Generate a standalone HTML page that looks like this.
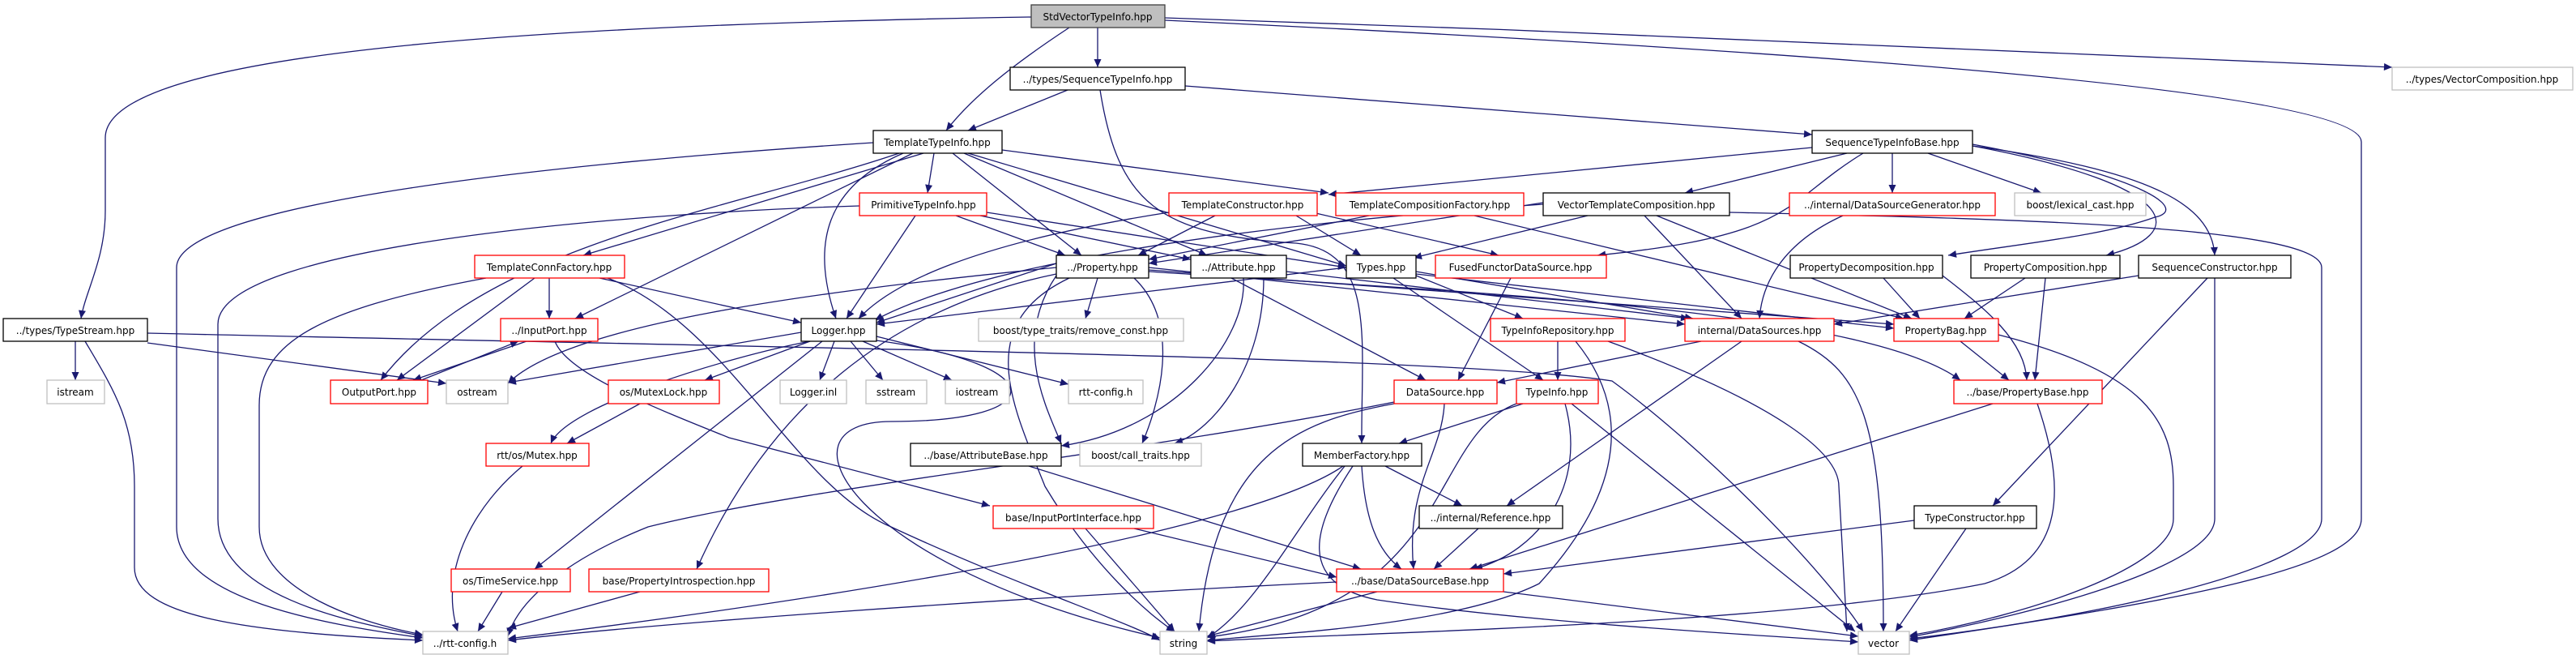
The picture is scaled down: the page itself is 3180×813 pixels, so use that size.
<!DOCTYPE html>
<html><head><meta charset="utf-8"><style>
html,body{margin:0;padding:0;background:#fff;}
svg{display:block;}
text{font-family:"DejaVu Sans","Liberation Sans",sans-serif;font-size:12px;fill:#000;text-anchor:middle;}
.e{fill:none;stroke:#191970;stroke-width:1.3;marker-end:url(#a);}
.k{fill:#fff;stroke:#000;stroke-width:1.3;}
.r{fill:#fff;stroke:#ff0000;stroke-width:1.3;}
.g{fill:#fff;stroke:#bfbfbf;stroke-width:1.3;}
</style></head><body>
<svg width="3180" height="813" viewBox="0 0 3180 813" xmlns="http://www.w3.org/2000/svg">
<defs><marker id="a" viewBox="0 0 10 10" refX="10" refY="5" markerWidth="12" markerHeight="10" markerUnits="userSpaceOnUse" orient="auto"><path d="M0,0.5 L10,5 L0,9.5z" fill="#191970"/></marker></defs>
<g>
<path class="e" d="M1273,21 C700,30 130,60 130,170 L130,260 C130,320 105,360 100,393"/>
<path class="e" d="M1355,34 L1355,83"/>
<path class="e" d="M1320,34 C1250,80 1200,120 1168,161"/>
<path class="e" d="M1438,22 C2000,40 2700,70 2953,83"/>
<path class="e" d="M1438,25 C2400,70 2915,120 2915,175 L2915,640 C2915,700 2700,740 2357,790"/>
<path class="e" d="M1318,111 L1195,161"/>
<path class="e" d="M1463,106 L2237,166"/>
<path class="e" d="M1358,111 C1380,250 1430,290 1600,300 C1700,310 1680,420 1681,547"/>
<path class="e" d="M1153,189 L1145,238"/>
<path class="e" d="M1176,189 L1335,315"/>
<path class="e" d="M1190,189 L1490,315"/>
<path class="e" d="M1195,189 L1662,328"/>
<path class="e" d="M1237,185 L1640,238"/>
<path class="e" d="M1115,189 C1020,230 1000,300 1032,393"/>
<path class="e" d="M1140,189 L720,315"/>
<path class="e" d="M1127,189 L710,393"/>
<path class="e" d="M1110,189 C900,260 600,300 470,469"/>
<path class="e" d="M1078,176 C700,200 218,250 218,330 L218,650 C218,740 400,770 522,787"/>
<path class="e" d="M2237,182 L1640,240"/>
<path class="e" d="M2280,189 L2080,238"/>
<path class="e" d="M2336,189 L2336,238"/>
<path class="e" d="M2380,189 L2520,238"/>
<path class="e" d="M2300,189 C2200,250 2220,290 1972,315"/>
<path class="e" d="M2435,178 C2660,220 2700,260 2660,268 C2600,290 2500,300 2405,315"/>
<path class="e" d="M2435,180 C2700,230 2700,290 2600,315"/>
<path class="e" d="M2435,180 C2650,210 2730,250 2734,315"/>
<path class="e" d="M2135,262 C2500,270 2866,280 2866,330 L2866,640 C2866,700 2600,760 2357,788"/>
<path class="e" d="M2734,343 L2734,640 C2734,700 2500,760 2357,786"/>
<path class="e" d="M2467,413 C2650,460 2683,520 2683,600 L2683,640 C2683,700 2500,760 2357,784"/>
<path class="e" d="M1130,266 L1045,393"/>
<path class="e" d="M1180,266 L1315,315"/>
<path class="e" d="M1210,266 L1470,320"/>
<path class="e" d="M1218,262 L1662,330"/>
<path class="e" d="M1061,254 C800,262 269,300 269,400 L269,640 C269,740 450,770 522,785"/>
<path class="e" d="M1443,262 C1200,300 1100,350 1060,393"/>
<path class="e" d="M1600,266 L1680,315"/>
<path class="e" d="M1620,262 L1850,315"/>
<path class="e" d="M1500,266 L1405,315"/>
<path class="e" d="M1690,266 L1418,320"/>
<path class="e" d="M1820,266 L2350,393"/>
<path class="e" d="M1960,266 L1745,318"/>
<path class="e" d="M2030,266 L2150,393"/>
<path class="e" d="M2045,266 L2360,393"/>
<path class="e" d="M1905,250 L1418,325"/>
<path class="e" d="M1905,252 C1500,280 1200,330 1080,395"/>
<path class="e" d="M2275,266 C2200,300 2175,350 2172,393"/>
<path class="e" d="M740,343 L989,398"/>
<path class="e" d="M678,343 L678,393"/>
<path class="e" d="M660,343 L490,469"/>
<path class="e" d="M600,343 C400,380 320,420 320,500 L320,650 C320,730 450,770 522,783"/>
<path class="e" d="M750,343 C900,400 980,600 1100,650 C1250,720 1400,770 1432,790"/>
<path class="e" d="M1304,325 L1082,398"/>
<path class="e" d="M1355,343 L1340,393"/>
<path class="e" d="M1418,330 L2080,400"/>
<path class="e" d="M1418,333 L2338,400"/>
<path class="e" d="M1418,335 C1800,360 2300,380 2420,469"/>
<path class="e" d="M1400,343 C1460,400 1430,500 1410,547"/>
<path class="e" d="M1320,343 C1200,400 1250,500 1290,600 C1350,700 1420,760 1450,779"/>
<path class="e" d="M1304,330 C1000,360 700,400 627,473"/>
<path class="e" d="M1304,338 C1100,380 950,500 860,702"/>
<path class="e" d="M1304,340 C1250,420 1290,500 1310,547"/>
<path class="e" d="M1520,343 L1760,469"/>
<path class="e" d="M1535,343 C1540,420 1450,530 1310,550"/>
<path class="e" d="M1588,335 L2085,393"/>
<path class="e" d="M1560,343 C1560,450 1500,530 1450,547"/>
<path class="e" d="M1720,343 L1905,469"/>
<path class="e" d="M1748,340 L1880,393"/>
<path class="e" d="M1748,335 L2090,393"/>
<path class="e" d="M1662,330 L1082,400"/>
<path class="e" d="M1748,338 L2338,405"/>
<path class="e" d="M1865,343 L1800,469"/>
<path class="e" d="M2325,343 L2370,393"/>
<path class="e" d="M2398,340 C2450,380 2500,420 2502,469"/>
<path class="e" d="M2500,343 L2425,393"/>
<path class="e" d="M2525,343 L2512,469"/>
<path class="e" d="M2640,340 L2264,400"/>
<path class="e" d="M2725,343 L2460,624"/>
<path class="e" d="M93,421 L93,469"/>
<path class="e" d="M182,423 L551,473"/>
<path class="e" d="M105,421 C140,480 166,520 166,600 L166,700 C166,760 300,780 522,790"/>
<path class="e" d="M182,411 C1000,430 1800,440 1990,470 C2100,550 2250,700 2300,779"/>
<path class="e" d="M650,421 L510,469"/>
<path class="e" d="M520,469 L640,421"/>
<path class="e" d="M685,421 C700,460 800,500 900,540 L1222,624"/>
<path class="e" d="M989,410 L627,472"/>
<path class="e" d="M1000,421 L870,469"/>
<path class="e" d="M1030,421 L1012,469"/>
<path class="e" d="M1050,421 L1090,469"/>
<path class="e" d="M1065,421 L1175,469"/>
<path class="e" d="M1082,415 L1319,474"/>
<path class="e" d="M1000,421 C900,440 700,500 680,547"/>
<path class="e" d="M1015,421 L660,702"/>
<path class="e" d="M1082,420 C1300,450 1300,520 1100,520 C950,520 1050,700 1432,787"/>
<path class="e" d="M790,498 L700,547"/>
<path class="e" d="M645,575 C590,620 540,700 565,779"/>
<path class="e" d="M620,730 L590,779"/>
<path class="e" d="M790,730 L627,775"/>
<path class="e" d="M1923,421 L1923,469"/>
<path class="e" d="M1945,421 C2010,500 2010,600 1900,720 C1800,770 1600,780 1490,790"/>
<path class="e" d="M1985,421 C2200,500 2270,560 2270,600 L2280,779"/>
<path class="e" d="M2100,421 L1848,472"/>
<path class="e" d="M2150,421 L1860,624"/>
<path class="e" d="M2220,421 C2300,460 2325,520 2325,779"/>
<path class="e" d="M2420,421 L2480,469"/>
<path class="e" d="M2460,498 L1814,702"/>
<path class="e" d="M2515,498 C2550,600 2550,690 2450,720 C2200,770 1700,780 1490,791"/>
<path class="e" d="M1783,498 C1780,560 1735,600 1745,702"/>
<path class="e" d="M1721,498 C1600,520 1500,560 1480,779"/>
<path class="e" d="M1721,496 C1400,560 1000,600 800,650 C700,690 640,740 627,785"/>
<path class="e" d="M1880,498 L1727,547"/>
<path class="e" d="M1932,498 C1960,600 1900,680 1820,702"/>
<path class="e" d="M1940,498 L2290,779"/>
<path class="e" d="M1872,498 C1760,540 1800,750 1490,786"/>
<path class="e" d="M1710,575 L1805,624"/>
<path class="e" d="M1681,575 C1685,640 1700,680 1730,702"/>
<path class="e" d="M1660,575 C1600,650 1550,750 1490,787"/>
<path class="e" d="M1670,575 C1620,650 1600,720 1700,740 C1900,770 2200,785 2294,792"/>
<path class="e" d="M1658,575 C1550,650 1100,730 627,788"/>
<path class="e" d="M1825,652 L1770,702"/>
<path class="e" d="M1270,575 L1680,702"/>
<path class="e" d="M1400,652 L1650,712"/>
<path class="e" d="M1340,652 L1450,779"/>
<path class="e" d="M2363,642 L1856,708"/>
<path class="e" d="M2427,652 L2340,779"/>
<path class="e" d="M1650,718 C1200,740 800,770 627,790"/>
<path class="e" d="M1700,730 L1490,785"/>
<path class="e" d="M1856,730 L2294,785"/>
</g>
<g>
<rect x="1273" y="6" width="165" height="28" fill="#bfbfbf" stroke="#404040" stroke-width="1.3"/><text x="1355" y="25">StdVectorTypeInfo.hpp</text>
<rect class="k" x="1247" y="83" width="216" height="28"/><text x="1355" y="102">../types/SequenceTypeInfo.hpp</text>
<rect class="g" x="2953" y="83" width="223" height="28"/><text x="3064" y="102">../types/VectorComposition.hpp</text>
<rect class="k" x="1078" y="161" width="159" height="28"/><text x="1157" y="180">TemplateTypeInfo.hpp</text>
<rect class="k" x="2237" y="161" width="198" height="28"/><text x="2336" y="180">SequenceTypeInfoBase.hpp</text>
<rect class="r" x="1061" y="238" width="157" height="28"/><text x="1140" y="257">PrimitiveTypeInfo.hpp</text>
<rect class="r" x="1443" y="238" width="183" height="28"/><text x="1534" y="257">TemplateConstructor.hpp</text>
<rect class="r" x="1649" y="238" width="232" height="28"/><text x="1765" y="257">TemplateCompositionFactory.hpp</text>
<rect class="k" x="1905" y="238" width="230" height="28"/><text x="2020" y="257">VectorTemplateComposition.hpp</text>
<rect class="r" x="2209" y="238" width="254" height="28"/><text x="2336" y="257">../internal/DataSourceGenerator.hpp</text>
<rect class="g" x="2487" y="238" width="162" height="28"/><text x="2568" y="257">boost/lexical_cast.hpp</text>
<rect class="r" x="586" y="315" width="185" height="28"/><text x="678" y="334">TemplateConnFactory.hpp</text>
<rect class="k" x="1304" y="315" width="114" height="28"/><text x="1361" y="334">../Property.hpp</text>
<rect class="k" x="1470" y="315" width="118" height="28"/><text x="1529" y="334">../Attribute.hpp</text>
<rect class="k" x="1662" y="315" width="86" height="28"/><text x="1705" y="334">Types.hpp</text>
<rect class="r" x="1772" y="315" width="211" height="28"/><text x="1877" y="334">FusedFunctorDataSource.hpp</text>
<rect class="k" x="2210" y="315" width="188" height="28"/><text x="2304" y="334">PropertyDecomposition.hpp</text>
<rect class="k" x="2433" y="315" width="184" height="28"/><text x="2525" y="334">PropertyComposition.hpp</text>
<rect class="k" x="2640" y="315" width="188" height="28"/><text x="2734" y="334">SequenceConstructor.hpp</text>
<rect class="k" x="4" y="393" width="178" height="28"/><text x="93" y="412">../types/TypeStream.hpp</text>
<rect class="r" x="618" y="393" width="120" height="28"/><text x="678" y="412">../InputPort.hpp</text>
<rect class="k" x="989" y="393" width="93" height="28"/><text x="1035" y="412">Logger.hpp</text>
<rect class="g" x="1208" y="393" width="253" height="28"/><text x="1334" y="412">boost/type_traits/remove_const.hpp</text>
<rect class="r" x="1840" y="393" width="166" height="28"/><text x="1923" y="412">TypeInfoRepository.hpp</text>
<rect class="r" x="2080" y="393" width="184" height="28"/><text x="2172" y="412">internal/DataSources.hpp</text>
<rect class="r" x="2338" y="393" width="129" height="28"/><text x="2402" y="412">PropertyBag.hpp</text>
<rect class="g" x="58" y="469" width="71" height="29"/><text x="93" y="488">istream</text>
<rect class="r" x="408" y="469" width="120" height="29"/><text x="468" y="488">OutputPort.hpp</text>
<rect class="g" x="551" y="469" width="76" height="29"/><text x="589" y="488">ostream</text>
<rect class="r" x="751" y="469" width="137" height="29"/><text x="819" y="488">os/MutexLock.hpp</text>
<rect class="g" x="963" y="469" width="82" height="29"/><text x="1004" y="488">Logger.inl</text>
<rect class="g" x="1069" y="469" width="75" height="29"/><text x="1106" y="488">sstream</text>
<rect class="g" x="1167" y="469" width="79" height="29"/><text x="1206" y="488">iostream</text>
<rect class="g" x="1319" y="469" width="92" height="29"/><text x="1365" y="488">rtt-config.h</text>
<rect class="r" x="1721" y="469" width="127" height="29"/><text x="1784" y="488">DataSource.hpp</text>
<rect class="r" x="1872" y="469" width="101" height="29"/><text x="1922" y="488">TypeInfo.hpp</text>
<rect class="r" x="2412" y="469" width="183" height="29"/><text x="2503" y="488">../base/PropertyBase.hpp</text>
<rect class="r" x="600" y="547" width="127" height="28"/><text x="663" y="566">rtt/os/Mutex.hpp</text>
<rect class="k" x="1124" y="547" width="186" height="28"/><text x="1217" y="566">../base/AttributeBase.hpp</text>
<rect class="g" x="1333" y="547" width="150" height="28"/><text x="1408" y="566">boost/call_traits.hpp</text>
<rect class="k" x="1608" y="547" width="147" height="28"/><text x="1681" y="566">MemberFactory.hpp</text>
<rect class="r" x="1226" y="624" width="198" height="28"/><text x="1325" y="643">base/InputPortInterface.hpp</text>
<rect class="k" x="1752" y="624" width="177" height="28"/><text x="1840" y="643">../internal/Reference.hpp</text>
<rect class="k" x="2363" y="624" width="151" height="28"/><text x="2438" y="643">TypeConstructor.hpp</text>
<rect class="r" x="557" y="702" width="147" height="28"/><text x="630" y="721">os/TimeService.hpp</text>
<rect class="r" x="727" y="702" width="222" height="28"/><text x="838" y="721">base/PropertyIntrospection.hpp</text>
<rect class="r" x="1650" y="702" width="206" height="28"/><text x="1753" y="721">../base/DataSourceBase.hpp</text>
<rect class="g" x="522" y="779" width="105" height="28"/><text x="574" y="798">../rtt-config.h</text>
<rect class="g" x="1432" y="779" width="58" height="28"/><text x="1461" y="798">string</text>
<rect class="g" x="2294" y="779" width="63" height="28"/><text x="2325" y="798">vector</text>
</g>
</svg>
</body></html>
